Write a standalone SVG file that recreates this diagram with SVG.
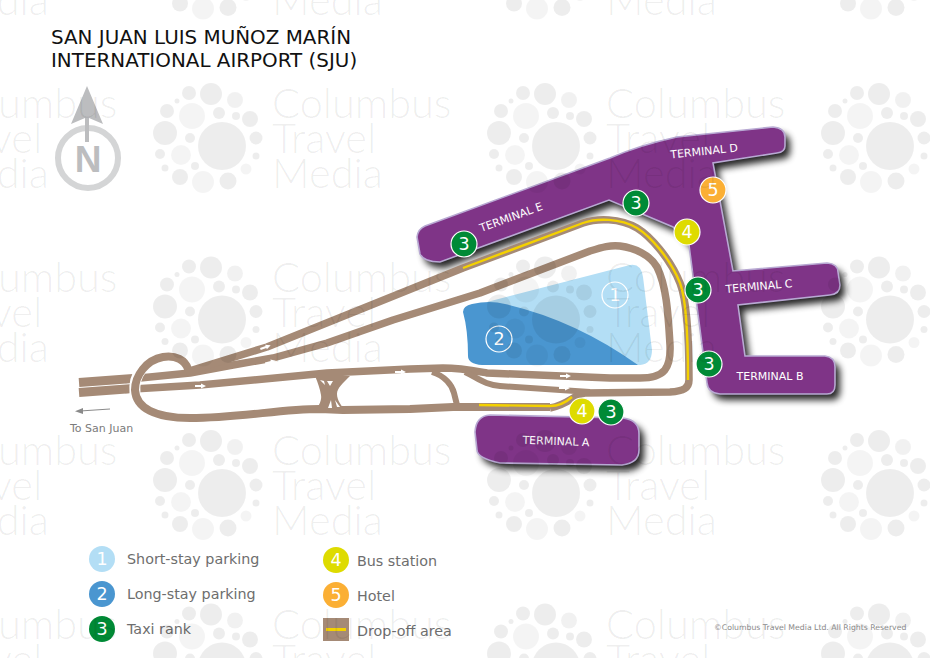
<svg xmlns="http://www.w3.org/2000/svg" xmlns:xlink="http://www.w3.org/1999/xlink" width="930" height="658" viewBox="0 0 930 658">
<style>
text{font-family:"DejaVu Sans",sans-serif}
.road{fill:none;stroke:#a58a76;stroke-width:7.5;stroke-linejoin:round}
.thin{stroke-width:6}
.lane{stroke-width:9}
.drop{fill:none;stroke:#f4d100;stroke-width:2.4}
.term{fill:#7f3487;stroke:#b8a9d3;stroke-width:1.6}
.tl{fill:#fff;font-size:11px;text-anchor:middle}
.b circle{stroke:#fff;stroke-width:1.2}
.b text,.lg text.n{fill:#fff;font-size:17.5px;text-anchor:middle}
.g{fill:#008a36}.y{fill:#dedb00}.o{fill:#fbaf34}
.lt{fill:#6e6e6e;font-size:14.3px}
.ar{fill:#fff}
.wt{font-family:"Lato","Open Sans",sans-serif;font-size:41.5px;font-weight:300}
</style>
<defs>
<filter id="sh" x="-10%" y="-10%" width="125%" height="130%"><feGaussianBlur stdDeviation="3.5"/></filter>
<path id="ar" d="M-6,-1H0V-2.5L5,0L0,2.5V1H-6Z"/>
<g id="tile">
<circle cx="222" cy="146" r="24"/><circle cx="211" cy="94" r="11"/><circle cx="235" cy="100" r="8" opacity=".8"/><circle cx="189" cy="93" r="7"/><circle cx="177" cy="101" r="2.5"/><circle cx="192" cy="116" r="13" opacity=".6"/><circle cx="219" cy="113" r="6"/><circle cx="236" cy="116" r="4"/><circle cx="250" cy="119" r="8"/><circle cx="167" cy="111" r="7"/><circle cx="165" cy="133" r="12"/><circle cx="190" cy="138" r="5"/><circle cx="256" cy="138" r="6.5"/><circle cx="160" cy="154" r="5"/><circle cx="181" cy="155" r="10" opacity=".6"/><circle cx="256" cy="156" r="3.5"/><circle cx="165" cy="168" r="3.5"/><circle cx="195" cy="166" r="4"/><circle cx="246" cy="169" r="5.5" opacity=".6"/><circle cx="180" cy="177" r="8"/><circle cx="203" cy="182" r="11" opacity=".6"/><circle cx="228" cy="181" r="8.5"/>
<text class="wt" x="272" y="118">Columbus</text><text class="wt" x="272" y="153">Travel</text><text class="wt" x="272" y="188">Media</text>
</g>
<g id="row"><use xlink:href="#tile" x="-334"/><use xlink:href="#tile"/><use xlink:href="#tile" x="334"/><use xlink:href="#tile" x="668"/></g>
</defs>
<rect width="930" height="658" fill="#fff"/>
<g id="title"><text x="51" y="44" font-size="19.9" fill="#111">SAN JUAN LUIS MUÑOZ MARÍN</text><text x="51" y="67" font-size="19.9" fill="#111">INTERNATIONAL AIRPORT (SJU)</text></g>
<g id="compass">
<circle cx="88" cy="158" r="30" fill="none" stroke="#d4d5d6" stroke-width="6"/>
<path d="M87,86L103,124L89,118V142H85V118L71,124Z" fill="#bcbdbf"/>
<text x="88" y="172" text-anchor="middle" font-size="37" font-weight="bold" fill="#bcbdbf" style="font-family:'Liberation Sans',sans-serif">N</text>
</g>
<g id="parking">
<path id="p1" fill="#b3def5" d="M487,302L630,265Q641,263 643,277L652,350Q652,364 640,365H560L480,330Z"/>
<path id="p2" fill="#4a96d0" d="M463,312Q463,306 472,304Q490,300 505,304Q575,320 638,365H482Q468,364 468,356Q468,330 463,312Z"/>
<g class="b"><circle cx="615" cy="295" r="13" fill="none" stroke-width="1"/><text x="615" y="301">1</text><circle cx="499" cy="339" r="13" fill="none" stroke-width="1"/><text x="499" y="345">2</text></g>
</g>
<g id="terminal-shadows" filter="url(#sh)" fill="#000" opacity=".85" transform="translate(5,6)">
<path d="M417,237Q418,229 425,226L610,158Q640,145 677,137L773,127Q785,128 785,137V146Q785,152 777,153L713,163L733,271L827,263Q838,264 838,272L840,285Q840,294 830,295L738,305L745,356H825Q835,357 835,367V385Q835,394 827,394H720Q708,393 707,383L689,245L673,227L609,200L440,262Q424,262 420,254Z"/>
<path d="M475,432Q476,416 490,415L623,418Q639,420 639,434V450Q639,463 622,465L500,463Q477,458 477,450Z"/>
</g>
<g id="terminal-a"><path class="term" d="M475,432Q476,416 490,415L623,418Q639,420 639,434V450Q639,463 622,465L500,463Q477,458 477,450Z"/><text class="tl" x="556" y="445" transform="rotate(2 556 441)">TERMINAL A</text></g>
<g id="terminals-bcde"><path class="term" d="M417,237Q418,229 425,226L610,158Q640,145 677,137L773,127Q785,128 785,137V146Q785,152 777,153L713,163L733,271L827,263Q838,264 838,272L840,285Q840,294 830,295L738,305L745,356H825Q835,357 835,367V385Q835,394 827,394H720Q708,393 707,383L689,245L673,227L609,200L440,262Q424,262 420,254Z"/>
<text class="tl" x="704" y="155" transform="rotate(-6 704 150)">TERMINAL D</text><text class="tl" x="511" y="221" transform="rotate(-20 511 217)">TERMINAL E</text><text class="tl" x="759" y="290" transform="rotate(-5 759 286)">TERMINAL C</text><text class="tl" x="770" y="380">TERMINAL B</text></g>
<g id="connectors">
<path class="road lane" d="M79,382.5L133,378.5M79,392.5L133,388.5"/>
<path class="road" d="M125,379.5L190,373L233,365L273,358L327,343L393,320L480,293L590,251C603,247 610,245 620,246C635,248 650,255 657,267C666,285 668,310 670,345C671,368 665,378 640,378L610,378L487,373C470,370 460,368 443,368L410,369L327,373L200,385L125,389.5"/>
<path class="road" d="M186,372L267,347L463,268L583,223C597,218 620,218 637,228C650,236 670,258 680,283C686,298 689,330 689,380C689,388 684,391 670,392L585,393C575,394 568,405 550,408"/>
<path d="M141,370C136,376 134,384 135,394" fill="none" stroke="#fff" stroke-width="11"/>
<path class="road" style="stroke-width:8" d="M188,369C185,360 176,355 163,357C146,360 135,376 135,390C136,408 155,418 190,418C240,418 280,409 320,409L343,410L410,409L453,407L550,407"/>
<path class="road thin" d="M465,372C478,378 485,385 500,386L590,392M432,372C445,376 452,385 454,393L457,405"/>
<path id="hourglass" fill="#a58a76" d="M315,376H350C343,383 337,388 337,394C337,400 341,405 345,411H316C319,405 322,400 321,395C320,389 318,383 315,376Z"/>
<path fill="#fff" d="M320,380L325,385L324,381ZM327,381H333L330,386ZM328,408H332L331,400ZM335,400L340,407H337Z"/>
<path class="drop" d="M463,268L583,223C597,218 620,218 637,228C650,236 670,258 680,283C686,298 688,330 688,380"/>
<path class="drop" d="M479,405L550,406Q562,406 572,397"/>
<g class="ar"><use xlink:href="#ar" transform="translate(266,347) rotate(-20)"/><use xlink:href="#ar" transform="translate(271,362) rotate(-15)"/><use xlink:href="#ar" transform="translate(201,386)"/><use xlink:href="#ar" transform="translate(401,372)"/><use xlink:href="#ar" transform="translate(566,376)"/><use xlink:href="#ar" transform="translate(565,388)"/></g>
<path d="M110,409L80,411" stroke="#8a8a8a" stroke-width="1" fill="none"/><path d="M75,411.3L83,408V414Z" fill="#8a8a8a"/>
</g>
<text id="to" x="70" y="432" font-size="11" fill="#7b7b7b">To San Juan</text>
<g class="b" id="badges">
<circle class="g" cx="464" cy="244" r="13"/><text x="464" y="250">3</text>
<circle class="g" cx="636" cy="203" r="13"/><text x="636" y="209">3</text>
<circle class="y" cx="687" cy="232" r="13"/><text x="687" y="238">4</text>
<circle class="o" cx="713" cy="190" r="13"/><text x="713" y="196">5</text>
<circle class="g" cx="698" cy="290" r="13"/><text x="698" y="296">3</text>
<circle class="g" cx="709" cy="364" r="13"/><text x="709" y="370">3</text>
<circle class="y" cx="582" cy="411" r="13"/><text x="582" y="417">4</text>
<circle class="g" cx="611" cy="412" r="13"/><text x="611" y="418">3</text>
</g>
<g id="legend" class="lg">
<circle cx="102" cy="559" r="13" fill="#b3def5"/><text class="n" x="102" y="565">1</text><text class="lt" x="127" y="564">Short-stay parking</text>
<circle cx="102" cy="594" r="13" fill="#4a96d0"/><text class="n" x="102" y="600">2</text><text class="lt" x="127" y="599">Long-stay parking</text>
<circle cx="102" cy="629" r="13" fill="#008a36"/><text class="n" x="102" y="635">3</text><text class="lt" x="127" y="634">Taxi rank</text>
<circle cx="336" cy="560" r="13" fill="#dedb00"/><text class="n" x="336" y="566">4</text><text class="lt" x="357" y="566">Bus station</text>
<circle cx="336" cy="595" r="13" fill="#fbaf34"/><text class="n" x="336" y="601">5</text><text class="lt" x="357" y="601">Hotel</text>
<rect x="323" y="618" width="26" height="23" fill="#a58a76"/><rect x="326" y="628" width="20" height="3" fill="#f4d100"/><text class="lt" x="357" y="636">Drop-off area</text>
</g>
<g id="watermark" fill="#000" fill-opacity=".07">
<use xlink:href="#row" y="-173.5"/><use xlink:href="#row"/><use xlink:href="#row" y="173.5"/><use xlink:href="#row" y="347"/><use xlink:href="#row" y="520.5"/>
</g>
<text id="copyright" x="714" y="630" font-size="7.75" fill="#8a8a8a">©Columbus Travel Media Ltd. All Rights Reserved</text>
</svg>
